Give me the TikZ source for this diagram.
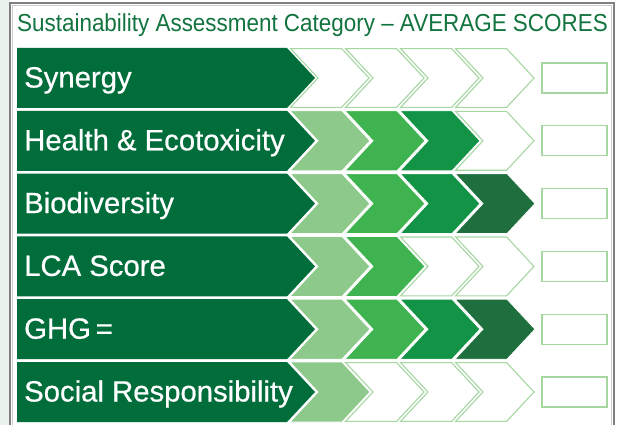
\documentclass[tikz,border=0pt]{standalone}
\usepackage{fontspec}
\setmainfont{Liberation Sans}
\newfontfamily\labfont{Liberation Sans}[FakeBold=0.6]
\usepackage{graphicx}
\definecolor{bgout}{HTML}{EAF3EE}
\definecolor{framegray}{HTML}{808080}
\definecolor{titlegreen}{HTML}{12743F}
\definecolor{banner}{HTML}{006D3B}
\definecolor{lvlA}{HTML}{8DC98A}
\definecolor{lvlB}{HTML}{3FB34F}
\definecolor{lvlC}{HTML}{139346}
\definecolor{lvlD}{HTML}{1F6E3D}
\definecolor{emptyline}{HTML}{A6D7A1}
\tikzset{
  lab/.style={anchor=base west, text=white, inner sep=0pt, font=\labfont\fontsize{29.3}{30}\selectfont},
  scorebox/.style={draw=emptyline, line width=1.2pt, minimum width=65pt, minimum height=30pt, inner sep=0pt},
  bannershape/.style={fill=banner},
  fullchev/.style={draw=white, line width=0.8pt},
  emptychev/.style={draw=emptyline, line width=1.1pt, line join=miter},
}
\begin{document}
\begin{tikzpicture}[x=1pt,y=-1pt]
\useasboundingbox (0,0) rectangle (629,425);
\fill[white] (0,0) rectangle (629,425);
\fill[bgout] (0,0) rectangle (10,425);
\draw[framegray, line width=2pt] (10,430) -- (10,3) -- (614,3) -- (614,430);
\draw[black!20, line width=0.6pt] (12.5,430) -- (12.5,5.5) -- (611.5,5.5) -- (611.5,430);
\node[anchor=base west, inner sep=0pt, text=titlegreen] (title) at (17,31.6)
  {\scalebox{0.912}[1]{\fontsize{24.6}{25}\selectfont Sustainability Assessment Category – AVERAGE SCORES}};
\foreach \r/\lab/\n in {0/Synergy/0, 1/{Health \& Ecotoxicity}/3, 2/Biodiversity/4, 3/LCA Score/2, 4/GHG\,=/4, 5/Social Responsibility/1}{
  \pgfmathsetmacro\yt{48+62.8*\r}
  \pgfmathsetmacro\ym{\yt+30}
  \pgfmathsetmacro\yb{\yt+60}
  \fill[bannershape] (17,\yt) -- (287,\yt) -- (315,\ym) -- (287,\yb) -- (17,\yb) -- cycle;
  \node[lab] (lab\r) at (24,\ym+9.5) {\lab};
  \foreach \i/\c in {0/lvlA,1/lvlB,2/lvlC,3/lvlD}{
    \pgfmathsetmacro\xa{290+55*\i}
    \ifnum\i<\n\relax
      \filldraw[fullchev, fill=\c] (\xa,\yt) -- (\xa+52,\yt) -- (\xa+80,\ym) -- (\xa+52,\yb) -- (\xa,\yb) -- (\xa+28,\ym) -- cycle;
    \else
      \draw[emptychev] (\xa+0.6,\yt+0.6) -- (\xa+51.6,\yt+0.6) -- (\xa+79,\ym) -- (\xa+51.6,\yb-0.6) -- (\xa+0.6,\yb-0.6) -- (\xa+28,\ym) -- cycle;
    \fi
  }
  \node[scorebox] (box\r) at (574.5,\ym) {};
}
\end{tikzpicture}
\end{document}
